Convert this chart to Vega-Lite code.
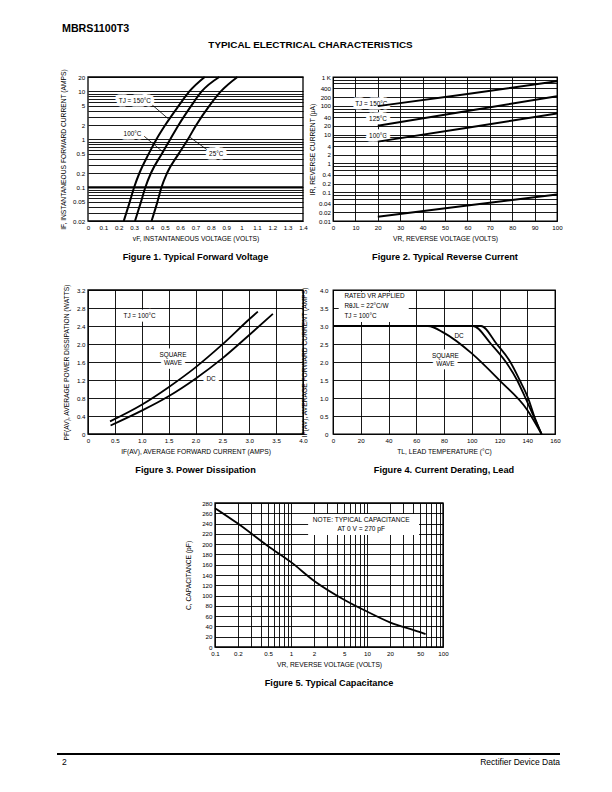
{
"$schema":"https://vega.github.io/schema/vega-lite/v6.json",
"background":"white",
"padding":{"left":56,"top":22,"right":0,"bottom":0},
"title":{"text":"MBRS1100T3","anchor":"start","frame":"group","dx":-26,"fontSize":10.7,"fontWeight":"bold","offset":5},
"columns":3,
"align":"each",
"bounds":"flush",
"spacing":{"row":69,"column":30},
"concat":[
 {"width":97,"height":144,"view":{"stroke":null},
  "title":{"text":"Figure 1.  Typical Forward Voltage","orient":"bottom","offset":11,"dx":59},
  "encoding":{
   "x":{"field":"x","type":"quantitative","scale":{"domain":[0,1.4],"range":[0,215],"nice":false,"zero":false},"axis":null},
   "y":{"field":"y","type":"quantitative","scale":{"type":"log","domain":[0.02,20],"nice":false},"axis":{"values":[0.02,0.03,0.04,0.05,0.06,0.07,0.08,0.09,0.1,0.2,0.3,0.4,0.5,0.6,0.7,0.8,0.9,1,2,3,4,5,6,7,8,9,10,20],"format":"~g","labelExpr":"indexof([0.02,0.05,0.1,0.2,0.5,1,2,5,10,20], datum.value) >= 0 ? datum.label : ''","title":"IF, INSTANTANEOUS FORWARD CURRENT (AMPS)","titlePadding":6,"labelPadding":3.4}}
  },
  "resolve":{"axis":{"x":"independent"}},
  "layer":[
   {"data":{"name":"f1rule"},"mark":{"type":"rule","strokeWidth":2.2,"color":"black"},
    "encoding":{"x":{"field":"x","type":"quantitative","axis":{"orient":"top","title":"TYPICAL ELECTRICAL CHARACTERISTICS","labels":false,"grid":false,"domain":false,"ticks":false,"titleX":222,"titleY":-32.5,"titleAlign":"center","titleBaseline":"middle","titleAnchor":"middle","titleFontSize":9.9,"titleFontWeight":"bold"}},"x2":{"field":"x2"}}},
   {"data":{"name":"f1lead"},"mark":{"type":"rule","strokeWidth":0.8,"color":"black"},"encoding":{"x2":{"field":"x2"},"y2":{"field":"y2"}}},
   {"data":{"name":"f1lab"},"encoding":{"text":{"field":"text"}},"layer":[
     {"mark":{"type":"text","fill":"white","stroke":"white","strokeWidth":7,"strokeJoin":"round","fontSize":6.4}},
     {"mark":{"type":"text","color":"black","fontSize":6.4}}]},
   {"data":{"name":"f1"},"mark":{"type":"line","color":"black","strokeWidth":2,"interpolate":"monotone"},
    "encoding":{"x":{"field":"x","type":"quantitative","axis":{"values":[0,0.1,0.2,0.3,0.4,0.5,0.6,0.7,0.8,0.9,1,1.1,1.2,1.3,1.4],"format":"~g","title":"vF, INSTANTANEOUS VOLTAGE (VOLTS)"}},"detail":{"field":"t"}}},
   {"data":{"name":"f1border"},"mark":{"type":"rect","filled":false,"stroke":"black","strokeWidth":1.3},"encoding":{"x2":{"field":"x2"},"y2":{"field":"y2"}}}
  ]},
 {"width":88,"height":144,"view":{"stroke":null},"data":{"values":[]},"mark":"point"},
 {"width":224,"height":144,
  "title":{"text":"Figure 2.  Typical Reverse Current","orient":"bottom","offset":11},
  "encoding":{
   "x":{"field":"x","type":"quantitative","scale":{"domain":[0,100],"nice":false},"axis":{"values":[0,10,20,30,40,50,60,70,80,90,100],"format":"d","title":"VR, REVERSE VOLTAGE (VOLTS)"}},
   "y":{"field":"y","type":"quantitative","scale":{"type":"log","domain":[0.01,1000],"nice":false},"axis":{"values":[0.01,0.02,0.04,0.06,0.08,0.1,0.2,0.4,0.6,0.8,1,2,4,6,8,10,20,40,60,80,100,200,400,600,800,1000],"format":"~g","labelExpr":"datum.value == 1000 ? '1 K' : (indexof([0.01,0.02,0.04,0.1,0.2,0.4,1,2,4,10,20,40,100,200,400], datum.value) >= 0 ? datum.label : '')","title":"IR, REVERSE CURRENT (μA)","titlePadding":3,"labelPadding":2.5}}
  },
  "layer":[
   {"data":{"name":"f2lab"},"encoding":{"text":{"field":"text"}},"layer":[
     {"mark":{"type":"text","fill":"white","stroke":"white","strokeWidth":7,"strokeJoin":"round","fontSize":6.4}},
     {"mark":{"type":"text","color":"black","fontSize":6.4}}]},
   {"data":{"name":"f2"},"mark":{"type":"line","color":"black","strokeWidth":2,"clip":true},"encoding":{"detail":{"field":"t"}}}
  ]},
 {"width":97,"height":144,"view":{"stroke":null},
  "title":{"text":"Figure 3.  Power Dissipation","orient":"bottom","offset":11,"dx":59},
  "encoding":{
   "x":{"field":"x","type":"quantitative","scale":{"domain":[0,4],"range":[0,215],"nice":false},"axis":{"values":[0,0.5,1,1.5,2,2.5,3,3.5,4],"labelExpr":"datum.value == 0 ? '0' : format(datum.value, '.1f')","title":"IF(AV), AVERAGE FORWARD CURRENT (AMPS)"}},
   "y":{"field":"y","type":"quantitative","scale":{"domain":[0,3.2],"nice":false},"axis":{"values":[0,0.4,0.8,1.2,1.6,2,2.4,2.8,3.2],"labelExpr":"datum.value == 0 ? '0' : format(datum.value, '.1f')","title":"PF(AV), AVERAGE POWER DISSIPATION (WATTS)","titlePadding":7}}
  },
  "layer":[
   {"data":{"name":"f3lab"},"encoding":{"text":{"field":"text"}},"layer":[
     {"mark":{"type":"text","fill":"white","stroke":"white","strokeWidth":7,"strokeJoin":"round","fontSize":6.4}},
     {"mark":{"type":"text","color":"black","fontSize":6.4}}]},
   {"data":{"name":"f3"},"mark":{"type":"line","color":"black","strokeWidth":1.8,"interpolate":"monotone"},"encoding":{"detail":{"field":"t"}}},
   {"data":{"name":"f3border"},"mark":{"type":"rect","filled":false,"stroke":"black","strokeWidth":1.3},"encoding":{"x2":{"field":"x2"},"y2":{"field":"y2"}}}
  ]},
 {"width":88,"height":144,"view":{"stroke":null},"data":{"values":[]},"mark":"point"},
 {"width":222,"height":144,
  "title":{"text":"Figure 4.  Current Derating, Lead","orient":"bottom","offset":11},
  "encoding":{
   "x":{"field":"x","type":"quantitative","scale":{"domain":[0,160],"nice":false},"axis":{"values":[0,20,40,60,80,100,120,140,160],"format":"d","title":"TL, LEAD TEMPERATURE (°C)"}},
   "y":{"field":"y","type":"quantitative","scale":{"domain":[0,4],"nice":false},"axis":{"values":[0,0.5,1,1.5,2,2.5,3,3.5,4],"labelExpr":"datum.value == 0 ? '0' : format(datum.value, '.1f')","title":"IF(AV), AVERAGE FORWARD CURRENT (AMPS)","titlePadding":12,"labelPadding":5}}
  },
  "layer":[
   {"data":{"name":"f4box"},"mark":{"type":"rect","color":"white"},"encoding":{"x2":{"field":"x2"},"y2":{"field":"y2"}}},
   {"data":{"name":"f4note"},"mark":{"type":"text","align":"left","color":"black","fontSize":6.4},"encoding":{"text":{"field":"text"}}},
   {"data":{"name":"f4lab"},"encoding":{"text":{"field":"text"}},"layer":[
     {"mark":{"type":"text","fill":"white","stroke":"white","strokeWidth":7,"strokeJoin":"round","fontSize":6.4}},
     {"mark":{"type":"text","color":"black","fontSize":6.4}}]},
   {"data":{"name":"f4"},"mark":{"type":"line","color":"black","strokeWidth":1.8,"interpolate":"monotone"},"encoding":{"detail":{"field":"t"}}}
  ]},
 {"width":97,"height":144,"view":{"stroke":null},"data":{"values":[]},"mark":"point"},
 {"width":88,"height":144,"view":{"stroke":null},
  "title":{"text":"Figure 5. Typical Capacitance","orient":"bottom","offset":11,"dx":70},
  "encoding":{
   "x":{"field":"x","type":"quantitative","scale":{"type":"log","domain":[0.1,100],"range":[0,228],"nice":false},"axis":{"values":[0.1,0.2,0.3,0.4,0.5,0.6,0.7,0.8,0.9,1,2,3,4,5,6,7,8,9,10,20,30,40,50,60,70,80,90,100],"format":"~g","labelExpr":"indexof([0.1,0.2,0.5,1,2,5,10,20,50,100], datum.value) >= 0 ? datum.label : ''","title":"VR, REVERSE VOLTAGE (VOLTS)"}},
   "y":{"field":"y","type":"quantitative","scale":{"domain":[0,280],"nice":false},"axis":{"values":[0,20,40,60,80,100,120,140,160,180,200,220,240,260,280],"format":"d","title":"C, CAPACITANCE (pF)","titlePadding":10}}
  },
  "layer":[
   {"data":{"name":"f5box"},"mark":{"type":"rect","color":"white"},"encoding":{"x2":{"field":"x2"},"y2":{"field":"y2"}}},
   {"data":{"name":"f5note"},"mark":{"type":"text","color":"black","fontSize":6.6},"encoding":{"text":{"field":"text"}}},
   {"data":{"name":"f5"},"mark":{"type":"line","color":"black","strokeWidth":1.8,"interpolate":"monotone"}},
   {"data":{"name":"f5border"},"mark":{"type":"rect","filled":false,"stroke":"black","strokeWidth":1.3},"encoding":{"x2":{"field":"x2"},"y2":{"field":"y2"}}}
  ]},
 {"width":1,"height":144,"view":{"stroke":null},"data":{"values":[]},"mark":"point"},
 {"width":97,"height":46,"view":{"stroke":null},
  "encoding":{
   "x":{"field":"x","type":"quantitative","scale":{"domain":[0,1],"range":[-31,472]},"axis":null},
   "y":{"field":"y","type":"quantitative","scale":{"domain":[0,1],"range":[46,38]},"axis":null}
  },
  "layer":[
   {"data":{"name":"footrule"},"mark":{"type":"rule","strokeWidth":2,"color":"black"},"encoding":{"x2":{"field":"x2"}}},
   {"data":{"name":"footL"},"mark":{"type":"text","align":"left","fontSize":8.5,"color":"black"},"encoding":{"text":{"field":"text"}}},
   {"data":{"name":"footR"},"mark":{"type":"text","align":"right","fontSize":8.5,"color":"black"},"encoding":{"text":{"field":"text"}}}
  ]}
],
"datasets":{
 "f1":[
  {"t":"150","x":0.233,"y":0.02},{"t":"150","x":0.272,"y":0.05},{"t":"150","x":0.3,"y":0.1},{"t":"150","x":0.335,"y":0.2},{"t":"150","x":0.395,"y":0.5},{"t":"150","x":0.445,"y":1},{"t":"150","x":0.503,"y":2},{"t":"150","x":0.59,"y":5},{"t":"150","x":0.66,"y":10},{"t":"150","x":0.76,"y":20},
  {"t":"100","x":0.306,"y":0.02},{"t":"100","x":0.345,"y":0.05},{"t":"100","x":0.373,"y":0.1},{"t":"100","x":0.41,"y":0.2},{"t":"100","x":0.48,"y":0.5},{"t":"100","x":0.535,"y":1},{"t":"100","x":0.59,"y":2},{"t":"100","x":0.672,"y":5},{"t":"100","x":0.74,"y":10},{"t":"100","x":0.855,"y":20},
  {"t":"25","x":0.414,"y":0.02},{"t":"25","x":0.452,"y":0.05},{"t":"25","x":0.478,"y":0.1},{"t":"25","x":0.515,"y":0.2},{"t":"25","x":0.59,"y":0.5},{"t":"25","x":0.65,"y":1},{"t":"25","x":0.705,"y":2},{"t":"25","x":0.79,"y":5},{"t":"25","x":0.865,"y":10},{"t":"25","x":0.973,"y":20}
 ],
 "f1rule":[{"x":0,"x2":1.4,"y":0.1}],
 "f1border":[{"x":0,"x2":1.4,"y":0.02,"y2":20}],
 "f1lead":[
  {"x":0.409,"y":5.55,"x2":0.523,"y2":2.69},
  {"x":0.361,"y":1.2,"x2":0.491,"y2":0.54},
  {"x":0.783,"y":0.585,"x2":0.664,"y2":1.11}
 ],
 "f1lab":[
  {"x":0.305,"y":6.2,"text":"TJ = 150°C"},
  {"x":0.29,"y":1.31,"text":"100°C"},
  {"x":0.835,"y":0.5,"text":"25°C"}
 ],
 "f2":[
  {"t":"150","x":20,"y":97.5},{"t":"150","x":60,"y":259},{"t":"150","x":100,"y":710},
  {"t":"125","x":20,"y":20.4},{"t":"125","x":60,"y":65.5},{"t":"125","x":100,"y":215},
  {"t":"100","x":20,"y":5.7},{"t":"100","x":60,"y":17.4},{"t":"100","x":100,"y":54},
  {"t":"25","x":20,"y":0.0141},{"t":"25","x":60,"y":0.0347},{"t":"25","x":100,"y":0.083}
 ],
 "f2lab":[
  {"x":17.1,"y":120,"text":"TJ = 150°C"},
  {"x":20.1,"y":34.7,"text":"125°C"},
  {"x":20.1,"y":9.2,"text":"100°C"}
 ],
 "f3":[
  {"t":"sq","x":0.41,"y":0.28},{"t":"sq","x":1.0,"y":0.65},{"t":"sq","x":1.5,"y":1.04},{"t":"sq","x":2.0,"y":1.48},{"t":"sq","x":2.5,"y":1.99},{"t":"sq","x":3.0,"y":2.55},{"t":"sq","x":3.16,"y":2.72},
  {"t":"dc","x":0.42,"y":0.19},{"t":"dc","x":1.0,"y":0.52},{"t":"dc","x":1.5,"y":0.84},{"t":"dc","x":2.0,"y":1.23},{"t":"dc","x":2.5,"y":1.68},{"t":"dc","x":3.0,"y":2.2},{"t":"dc","x":3.44,"y":2.67}
 ],
 "f3border":[{"x":0,"x2":4,"y":0,"y2":3.2}],
 "f3lab":[
  {"x":0.96,"y":2.62,"text":"TJ = 100°C"},
  {"x":1.58,"y":1.75,"text":"SQUARE"},
  {"x":1.58,"y":1.58,"text":"WAVE"},
  {"x":2.29,"y":1.23,"text":"DC"}
 ],
 "f4":[
  {"t":"sq","x":0,"y":3},{"t":"sq","x":68.4,"y":3},{"t":"sq","x":80,"y":2.81},{"t":"sq","x":100,"y":2.24},{"t":"sq","x":120,"y":1.49},{"t":"sq","x":140,"y":0.67},{"t":"sq","x":150.3,"y":0},
  {"t":"dc1","x":0,"y":3},{"t":"dc1","x":101,"y":3},{"t":"dc1","x":113.9,"y":2.5},{"t":"dc1","x":124.6,"y":2.0},{"t":"dc1","x":132.6,"y":1.5},{"t":"dc1","x":138.7,"y":1.0},{"t":"dc1","x":144.5,"y":0.5},{"t":"dc1","x":150.3,"y":0},
  {"t":"dc2","x":0,"y":3},{"t":"dc2","x":106.7,"y":3},{"t":"dc2","x":118,"y":2.5},{"t":"dc2","x":127.8,"y":2.0},{"t":"dc2","x":134.5,"y":1.5},{"t":"dc2","x":140.6,"y":1.0},{"t":"dc2","x":145,"y":0.5},{"t":"dc2","x":150.3,"y":0}
 ],
 "f4box":[{"x":4.1,"x2":54.6,"y":3.11,"y2":3.95}],
 "f4note":[
  {"x":8.2,"y":3.83,"text":"RATED VR APPLIED"},
  {"x":8.2,"y":3.56,"text":"RθJL = 22°C/W"},
  {"x":8.2,"y":3.27,"text":"TJ = 100°C"}
 ],
 "f4lab":[
  {"x":90.8,"y":2.73,"text":"DC"},
  {"x":81,"y":2.17,"text":"SQUARE"},
  {"x":81,"y":1.94,"text":"WAVE"}
 ],
 "f5":[
  {"x":0.1,"y":270},{"x":0.2,"y":240},{"x":0.5,"y":196},{"x":1,"y":165},{"x":2,"y":129},{"x":5,"y":92},{"x":10,"y":69},{"x":20,"y":48},{"x":50,"y":29},{"x":59,"y":25}
 ],
 "f5border":[{"x":0.1,"x2":100,"y":0,"y2":280}],
 "f5box":[{"x":1.68,"x2":48.4,"y":218,"y2":258.6}],
 "f5note":[
  {"x":8.4,"y":247.6,"text":"NOTE:  TYPICAL CAPACITANCE"},
  {"x":8.4,"y":229,"text":"AT 0 V = 270 pF"}
 ],
 "footrule":[{"x":0,"x2":1,"y":1}],
 "footL":[{"x":0.01,"y":0,"text":"2"}],
 "footR":[{"x":1,"y":0,"text":"Rectifier Device Data"}]
},
"config":{
 "font":"Liberation Sans",
 "view":{"stroke":"black","strokeWidth":1.3},
 "axis":{"grid":true,"gridColor":"black","gridOpacity":1,"gridWidth":0.9,"domain":false,"ticks":false,"labelFontSize":6.2,"labelColor":"black","labelFont":"Liberation Sans","titleFont":"Liberation Sans","titleFontSize":6.7,"titleFontWeight":"normal","titleColor":"black","labelPadding":3,"labelOverlap":false,"labelFlush":false,"labelBound":false},
 "axisX":{"titlePadding":5},
 "title":{"fontSize":9.2,"fontWeight":"bold","color":"black","font":"Liberation Sans"}
}
}
